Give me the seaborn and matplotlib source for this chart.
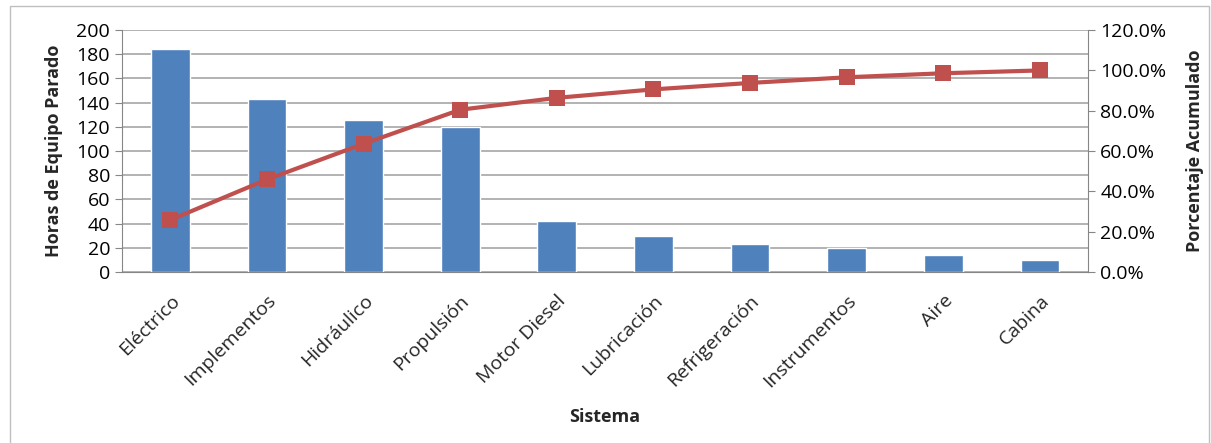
import seaborn as sns
import matplotlib.pyplot as plt
import matplotlib.ticker as mticker
import pandas as pd

sns.set_style("white")
plt.rcParams['font.family'] = ['Open Sans', 'DejaVu Sans']

# data
sistemas = ['Eléctrico', 'Implementos', 'Hidráulico', 'Propulsión', 'Motor Diesel',
            'Lubricación', 'Refrigeración', 'Instrumentos', 'Aire', 'Cabina']
horas = [184, 143, 126, 120, 42, 30, 23, 20, 14, 10]
acumulado = [25.8, 45.9, 63.6, 80.5, 86.4, 90.6, 93.8, 96.6, 98.6, 100.0]

df = pd.DataFrame({'sistema': sistemas, 'horas': horas, 'acum': acumulado})

fig = plt.figure(figsize=(12.11, 4.43), dpi=100)
# light outer frame like the office chart
fig.patches.append(plt.Rectangle((0.008, -0.01), 0.99, 0.997, transform=fig.transFigure,
                                 fill=False, edgecolor='#BFBFBF', linewidth=1))
ax = fig.add_axes([0.1007, 0.386, 0.798, 0.546])

sns.barplot(data=df, x='sistema', y='horas', color='#4F81BD', width=0.4,
            saturation=1, ax=ax, zorder=2)
ax.set_ylim(0, 200)
ax.set_yticks(range(0, 201, 20))
ax.grid(axis='y', color='#A6A6A6', linewidth=1.2, zorder=0)
ax.set_axisbelow(True)
ax.set_xlim(-0.5, len(sistemas) - 0.5)

ax2 = ax.twinx()
sns.lineplot(data=df, x='sistema', y='acum', color='#C0504D', linewidth=3,
             marker='s', markersize=11, markeredgewidth=0, ax=ax2, zorder=3)
ax2.set_ylim(0, 120)
ax2.set_yticks(range(0, 121, 20))
ax2.yaxis.set_major_formatter(mticker.FuncFormatter(lambda v, p: f'{v:.1f}%'))

for a in (ax, ax2):
    a.spines['top'].set_visible(False)
    a.spines['left'].set_color('#868686')
    a.spines['right'].set_color('#868686')
    a.spines['bottom'].set_color('#868686')
    a.tick_params(axis='y', length=5, color='#868686', labelsize=14, colors='black')
ax.spines['right'].set_visible(False)
ax2.spines['left'].set_visible(False)
ax2.spines['bottom'].set_visible(False)
for t in ax.yaxis.get_ticklines() + ax2.yaxis.get_ticklines():
    t.set_color('#868686')

# x ticks at category boundaries
ax.set_xticks([i + 0.5 for i in range(-1, len(sistemas))], minor=True)
ax.tick_params(axis='x', which='minor', length=6, color='#868686', direction='out')
ax.tick_params(axis='x', which='major', length=0, labelsize=14, pad=14)
ax.set_xticks(range(len(sistemas)))
ax.set_xticklabels(sistemas, rotation=45, ha='right', rotation_mode='anchor')

ax.set_xlabel('Sistema', fontsize=13, fontweight='bold', labelpad=12)
ax.set_ylabel('Horas de Equipo Parado', fontsize=13, fontweight='bold', labelpad=10)
ax2.set_ylabel('Porcentaje Acumulado', fontsize=13, fontweight='bold', labelpad=14)

fig.savefig('out.png', dpi=100)
